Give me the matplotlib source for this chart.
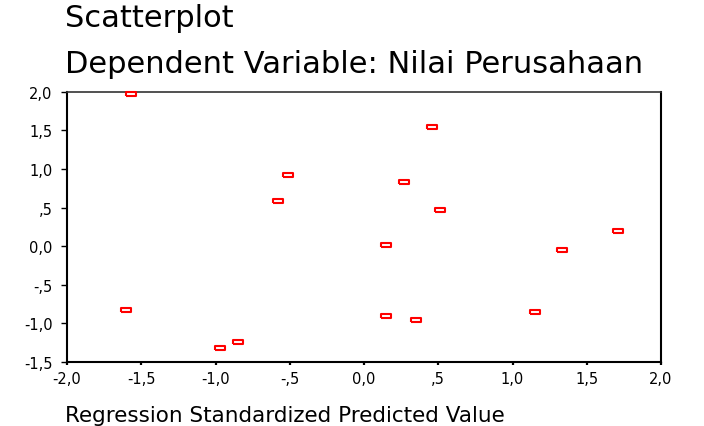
import matplotlib
matplotlib.use('Agg')
import matplotlib.pyplot as plt

pred_std = [-1.57, 0.46, -0.51, 0.27, -0.58, 0.51, 0.15, 1.71, 1.33,
            -1.60, 0.15, 0.35, 1.15, -0.85, -0.97]
resid_std = [1.965, 1.54, 0.92, 0.83, 0.59, 0.47, 0.01, 0.19, -0.05,
             -0.83, -0.91, -0.95, -0.85, -1.24, -1.32]

xticks = [-2.0, -1.5, -1.0, -0.5, 0.0, 0.5, 1.0, 1.5, 2.0]
xticklabels = ['-2,0', '-1,5', '-1,0', '-,5', '0,0', ',5', '1,0', '1,5', '2,0']
yticks = [-1.5, -1.0, -0.5, 0.0, 0.5, 1.0, 1.5, 2.0]
yticklabels = ['-1,5', '-1,0', '-,5', '0,0', ',5', '1,0', '1,5', '2,0']

title1 = 'Scatterplot'
title2 = 'Dependent Variable: Nilai Perusahaan'
xlabel = 'Regression Standardized Predicted Value'

plt.rcParams['font.family'] = ['DejaVu Sans']

W, H = 704, 427
fig = plt.figure(figsize=(W / 100, H / 100), dpi=100)
fig.patch.set_facecolor('white')

left, right, top, bottom = 67, 661, 92.7, 363
ax = fig.add_axes([left / W, 1 - bottom / H, (right - left) / W, (bottom - top) / H])

rect = [(-1, -0.42), (1, -0.42), (1, 0.42), (-1, 0.42), (-1, -0.42)]
ax.plot(pred_std, resid_std, linestyle='none', marker=rect, markersize=6.6,
        markerfacecolor='white', markeredgecolor='#ff0000', markeredgewidth=1.5,
        clip_on=False, zorder=3)

ax.set_xlim(-2.0, 2.0)
ax.set_ylim(-1.5, 2.0)
ax.set_xticks(xticks)
ax.set_xticklabels(xticklabels)
ax.set_yticks(yticks)
ax.set_yticklabels(yticklabels)

for side in ['left', 'bottom', 'right']:
    ax.spines[side].set_linewidth(1.5)
    ax.spines[side].set_color('black')
ax.spines['top'].set_linewidth(1.2)
ax.spines['top'].set_color('#333333')

ax.tick_params(axis='y', direction='out', length=4.5, width=1.0, pad=6,
               labelsize=10.5, colors='black')
ax.tick_params(axis='x', direction='out', length=2.2, width=1.6, pad=4,
               labelsize=10.5, colors='black')

ax.set_xlabel(xlabel, fontsize=15.5, ha='left', va='baseline')
ax.xaxis.set_label_coords(-2 / (right - left), (bottom - 421.7) / (bottom - top))

fig.text(65 / W, 1 - 27 / H, title1, fontsize=22, va='baseline', ha='left')
fig.text(65 / W, 1 - 73 / H, title2, fontsize=22, va='baseline', ha='left')

fig.savefig('out.png', dpi=100, facecolor='white')
